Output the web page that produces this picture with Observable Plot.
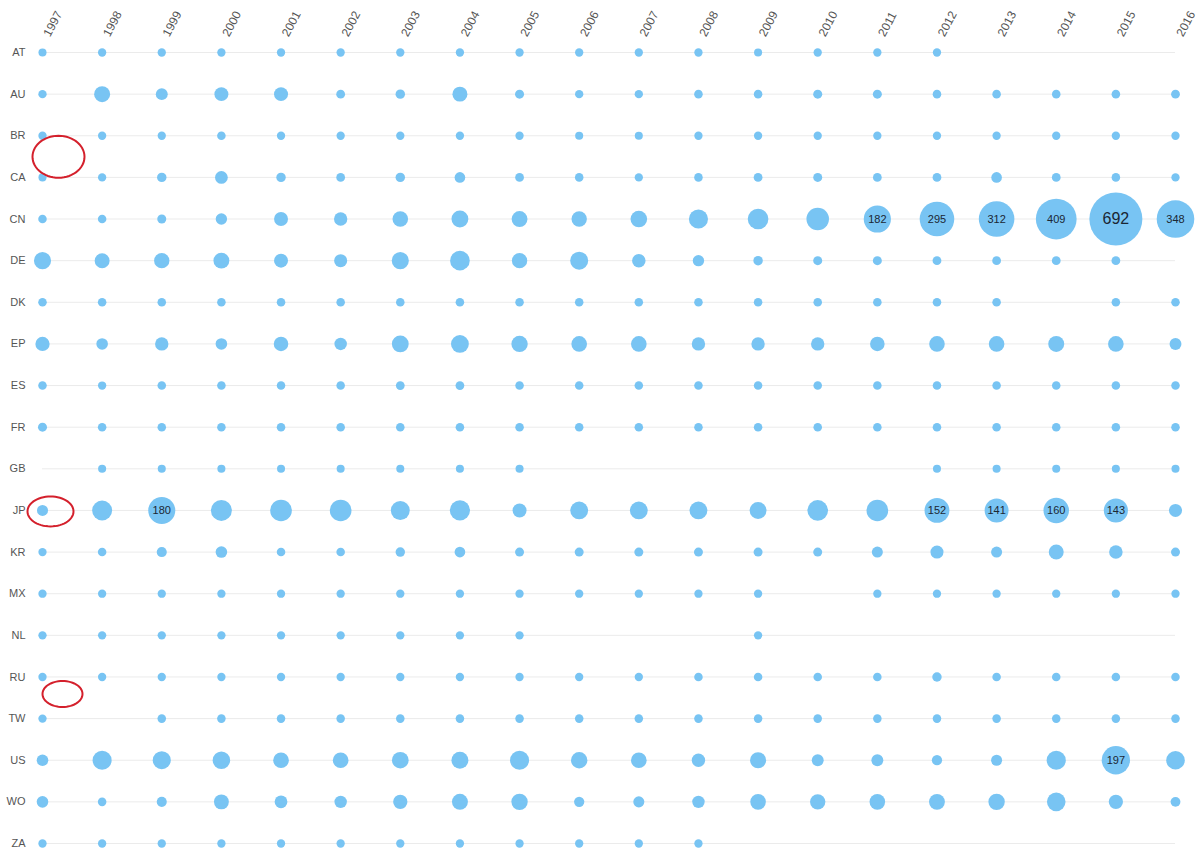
<!DOCTYPE html>
<html>
<head>
<meta charset="utf-8">
<script src="https://cdn.jsdelivr.net/npm/d3@7"></script>
<script src="https://cdn.jsdelivr.net/npm/@observablehq/plot@0.6"></script>
<style>
  html, body { margin: 0; padding: 0; background: #fff; }
  #chart svg { display: block; }
</style>
</head>
<body>
<div id="chart"></div>
<script>
const years = [1997,1998,1999,2000,2001,2002,2003,2004,2005,2006,2007,2008,2009,2010,2011,2012,2013,2014,2015,2016];
const countries = ["AT","AU","BR","CA","CN","DE","DK","EP","ES","FR","GB","JP","KR","MX","NL","RU","TW","US","WO","ZA"];

// values per country, one per year (null = no data)
const AT = [16,17,17,17,17,17,17,17,17,17,17,17,16,17,17,17,null,null,null,null];
const AU = [17,63,35,48,48,19,22,55,20,17,17,18,18,20,20,18,18,18,18,19];
const BR = [17,17,17,18,17,17,17,17,17,16,16,17,17,17,17,17,17,17,17,17];
const CA = [16,17,22,40,22,19,22,28,19,18,17,18,19,20,19,19,28,19,18,17];
const CN = [18,18,20,32,48,44,60,70,62,58,68,90,105,125,182,295,312,409,692,348];
const DE = [72,55,58,62,48,42,72,95,58,80,45,32,22,20,20,19,19,19,19,null];
const DK = [18,18,18,18,18,18,18,18,18,18,18,18,18,18,18,18,18,null,18,18];
const EP = [50,33,44,33,52,38,70,78,66,60,60,44,44,44,52,60,60,63,60,35];
const ES = [18,17,18,18,18,18,19,19,18,18,18,18,18,18,18,18,18,18,18,18];
const FR = [20,18,18,18,18,18,18,18,18,18,18,18,18,18,18,18,18,18,18,18];
const GB = [null,16,16,16,16,16,16,16,16,null,null,null,null,null,null,16,16,16,16,16];
const JP = [30,98,180,108,115,115,88,100,48,78,78,78,70,105,115,152,141,160,143,42];
const KR = [17,18,25,33,18,18,22,28,20,20,20,20,20,20,30,42,30,55,45,20];
const MX = [17,17,17,17,17,17,17,17,17,17,17,17,17,null,17,17,17,17,17,17];
const NL = [17,17,17,17,17,17,17,17,17,null,null,null,17,null,null,null,null,null,null,null];
const RU = [17,17,17,17,17,17,17,17,17,17,17,18,18,18,18,22,18,18,18,18];
const TW = [17,null,18,18,18,18,18,18,18,18,18,18,18,18,18,18,18,18,18,18];
const US = [33,89,80,75,60,60,68,70,89,66,60,44,63,35,35,26,30,90,197,85];
const WO = [33,18,25,55,40,38,50,63,66,26,30,38,60,58,60,62,66,85,50,24];
const ZA = [17,17,17,17,17,17,17,17,17,17,17,17,null,null,null,null,null,null,null,null];

// cells whose value is printed inside the bubble
const labelled = [
  ["CN",2011],["CN",2012],["CN",2013],["CN",2014],["CN",2015],["CN",2016],
  ["JP",1999],["JP",2012],["JP",2013],["JP",2014],["JP",2015],
  ["US",2015]
];

// highlighted (circled) spots
const highlights = [["BR",1997],["JP",1997],["RU",1997]];

const series = {AT,AU,BR,CA,CN,DE,DK,EP,ES,FR,GB,JP,KR,MX,NL,RU,TW,US,WO,ZA};
const data = [];
for (const c of countries) {
  series[c].forEach((v, i) => { if (v != null) data.push({country: c, year: years[i], value: v}); });
}
const labelData = labelled.map(([c, y]) => data.find(d => d.country === c && d.year === y));
const hl = highlights.map(([c, y]) => ({country: c, year: y}));

function ellipseSymbol(aspect) {
  return {
    draw(ctx, size) {
      const rx = Math.sqrt(size / Math.PI), ry = rx / aspect, n = 60;
      for (let i = 0; i <= n; ++i) {
        const t = 2 * Math.PI * i / n;
        const px = rx * Math.cos(t), py = ry * Math.sin(t);
        if (i === 0) ctx.moveTo(px, py); else ctx.lineTo(px, py);
      }
      ctx.closePath();
    }
  };
}

const gridColor = "#ebebeb";
const font = "'Liberation Sans', Arial, Helvetica, sans-serif";

const chart = Plot.plot({
  width: 1197,
  height: 854,
  marginLeft: 42,
  marginRight: 22,
  marginTop: 52,
  marginBottom: 11,
  style: {fontFamily: font, background: "#fff"},
  x: {type: "point", domain: years, padding: 0, round: false, axis: null},
  y: {type: "point", domain: countries, padding: 0, round: false, axis: null},
  r: {type: "sqrt", domain: [0, 692], range: [0, 26.5]},
  marks: [
    Plot.ruleY(countries, {y: d => d, x1: years[0], x2: years[years.length - 1], stroke: gridColor, strokeWidth: 1}),
    Plot.ruleX(years, {x: d => d, y1: countries[0], y2: countries[countries.length - 1], stroke: gridColor, strokeWidth: 1}),
    Plot.axisY({tickSize: 0, tickPadding: 17, fontSize: 11, fill: "#555", fontFamily: font}),
    Plot.text(years, {x: d => d, frameAnchor: "top", dy: -19, text: d => String(d), rotate: -62, textAnchor: "start", fontSize: 12, fill: "#555"}),
    Plot.dot(data, {x: "year", y: "country", r: "value", fill: "#78c4f3", stroke: "none"}),
    Plot.text(labelData, {x: "year", y: "country", text: d => String(d.value), fill: "#1b2733",
      fontSize: d => d.value > 500 ? 16 : 11}),
    Plot.dot(hl.filter(d => d.country === "BR"), {x: "year", y: "country", dx: 16, dy: 21, r: 26, symbol: ellipseSymbol(26/21), fill: "none", stroke: "#d4202c", strokeWidth: 2}),
    Plot.dot(hl.filter(d => d.country === "JP"), {x: "year", y: "country", dx: 8, dy: 1, r: 23, symbol: ellipseSymbol(23/15), fill: "none", stroke: "#d4202c", strokeWidth: 2}),
    Plot.dot(hl.filter(d => d.country === "RU"), {x: "year", y: "country", dx: 20, dy: 17, r: 20, symbol: ellipseSymbol(20/13), fill: "none", stroke: "#d4202c", strokeWidth: 2})
  ]
});
document.getElementById("chart").appendChild(chart);
</script>
</body>
</html>
